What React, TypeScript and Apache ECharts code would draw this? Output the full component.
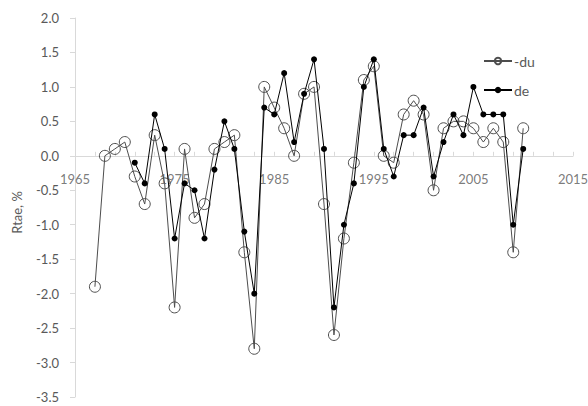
import React, { useEffect, useRef } from "react";
import * as echarts from "echarts";

const years = [1967, 1968, 1969, 1970, 1971, 1972, 1973, 1974, 1975, 1976, 1977, 1978, 1979, 1980, 1981, 1982, 1983, 1984, 1985, 1986, 1987, 1988, 1989, 1990, 1991, 1992, 1993, 1994, 1995, 1996, 1997, 1998, 1999, 2000, 2001, 2002, 2003, 2004, 2005, 2006, 2007, 2008, 2009, 2010];

const duValues = [-1.9, 0.0, 0.1, 0.2, -0.3, -0.7, 0.3, -0.4, -2.2, 0.1, -0.9, -0.7, 0.1, 0.2, 0.3, -1.4, -2.8, 1.0, 0.7, 0.4, 0.0, 0.9, 1.0, -0.7, -2.6, -1.2, -0.1, 1.1, 1.3, 0.0, -0.1, 0.6, 0.8, 0.6, -0.5, 0.4, 0.5, 0.5, 0.4, 0.2, 0.4, 0.2, -1.4, 0.4];

const deYears = [1971, 1972, 1973, 1974, 1975, 1976, 1977, 1978, 1979, 1980, 1981, 1982, 1983, 1984, 1985, 1986, 1987, 1988, 1989, 1990, 1991, 1992, 1993, 1994, 1995, 1996, 1997, 1998, 1999, 2000, 2001, 2002, 2003, 2004, 2005, 2006, 2007, 2008, 2009, 2010];

const deValues = [-0.1, -0.4, 0.6, 0.1, -1.2, -0.4, -0.5, -1.2, -0.2, 0.5, 0.1, -1.1, -2.0, 0.7, 0.6, 1.2, 0.2, 0.9, 1.4, 0.1, -2.2, -1.0, -0.4, 1.0, 1.4, 0.1, -0.3, 0.3, 0.3, 0.7, -0.3, 0.2, 0.6, 0.3, 1.0, 0.6, 0.6, 0.6, -1.0, 0.1];

const xTickLabels = [1965, 1975, 1985, 1995, 2005, 2015];

const seriesNames = ["-du", "de"];
const yAxisName = "Rtae, %";

const FONT = "Lato, 'Liberation Sans', sans-serif";
const TEXT = "#595959";
const AXIS = "#d9d9d9";

export default function App() {
  const ref = useRef<HTMLDivElement>(null);
  useEffect(() => {
    if (!ref.current) return;
    const chart = echarts.init(ref.current, undefined, { renderer: "svg" });
    chart.setOption({
      animation: false,
      backgroundColor: "#fff",
      textStyle: { fontFamily: FONT },
      grid: { left: 75, right: 15, top: 18, bottom: 9, containLabel: false, outerBoundsMode: "none" },
      legend: {
        data: seriesNames,
        orient: "vertical",
        left: 478,
        top: 49,
        itemWidth: 28,
        itemHeight: 8,
        itemGap: 15,
        textStyle: { color: TEXT, fontSize: 14, fontFamily: FONT, padding: [0, 0, 0, -3] },
      },
      xAxis: {
        type: "value",
        min: 1965,
        max: 2015,
        interval: 10,
        axisLine: { onZero: true, lineStyle: { color: AXIS, width: 1 } },
        axisTick: { show: true, inside: true, length: 4, lineStyle: { color: AXIS } },
        minorTick: { show: true, splitNumber: 5, length: 4, lineStyle: { color: AXIS } },
        splitLine: { show: false },
        axisLabel: { show: false },
      },
      yAxis: {
        type: "value",
        min: -3.5,
        max: 2.0,
        interval: 0.5,
        name: yAxisName,
        nameLocation: "middle",
        nameRotate: 90,
        nameGap: 52,
        nameTextStyle: { color: TEXT, fontSize: 13, fontFamily: FONT, padding: [0, 10, 0, 0] },
        axisLine: { show: true, lineStyle: { color: AXIS, width: 1 } },
        axisTick: { show: true, inside: false, length: 5, lineStyle: { color: AXIS } },
        splitLine: { show: false },
        axisLabel: {
          color: TEXT,
          fontSize: 13,
          margin: 16,
          fontFamily: FONT,
          formatter: (v: number) => v.toFixed(1),
        },
      },
      series: [
        {
          name: "xLabels",
          type: "scatter",
          silent: true,
          symbolSize: 0,
          data: xTickLabels.map((y) => [y, 0]),
          label: {
            show: true,
            position: "bottom",
            distance: 17,
            color: TEXT,
            fontSize: 13,
            fontFamily: FONT,
            formatter: (p: any) => String(p.value[0]),
          },
          z: 1,
        },
        {
          name: seriesNames[0],
          type: "line",
          data: years.map((y, i) => [y, duValues[i]]),
          symbol: "circle",
          symbolSize: 11,
          lineStyle: { color: "#4d4d4d", width: 1 },
          itemStyle: { color: "rgba(255,255,255,0)", borderColor: "#4d4d4d", borderWidth: 1 },
          z: 2,
        },
        {
          name: seriesNames[1],
          type: "line",
          data: deYears.map((y, i) => [y, deValues[i]]),
          symbol: "circle",
          symbolSize: 6,
          lineStyle: { color: "#000", width: 1 },
          itemStyle: { color: "#000", borderColor: "#000", borderWidth: 0 },
          z: 3,
        },
      ],
    });
    return () => chart.dispose();
  }, []);
  return <div ref={ref} style={{ width: 588, height: 406, position: "absolute", left: 0, top: 0 }} />;
}
